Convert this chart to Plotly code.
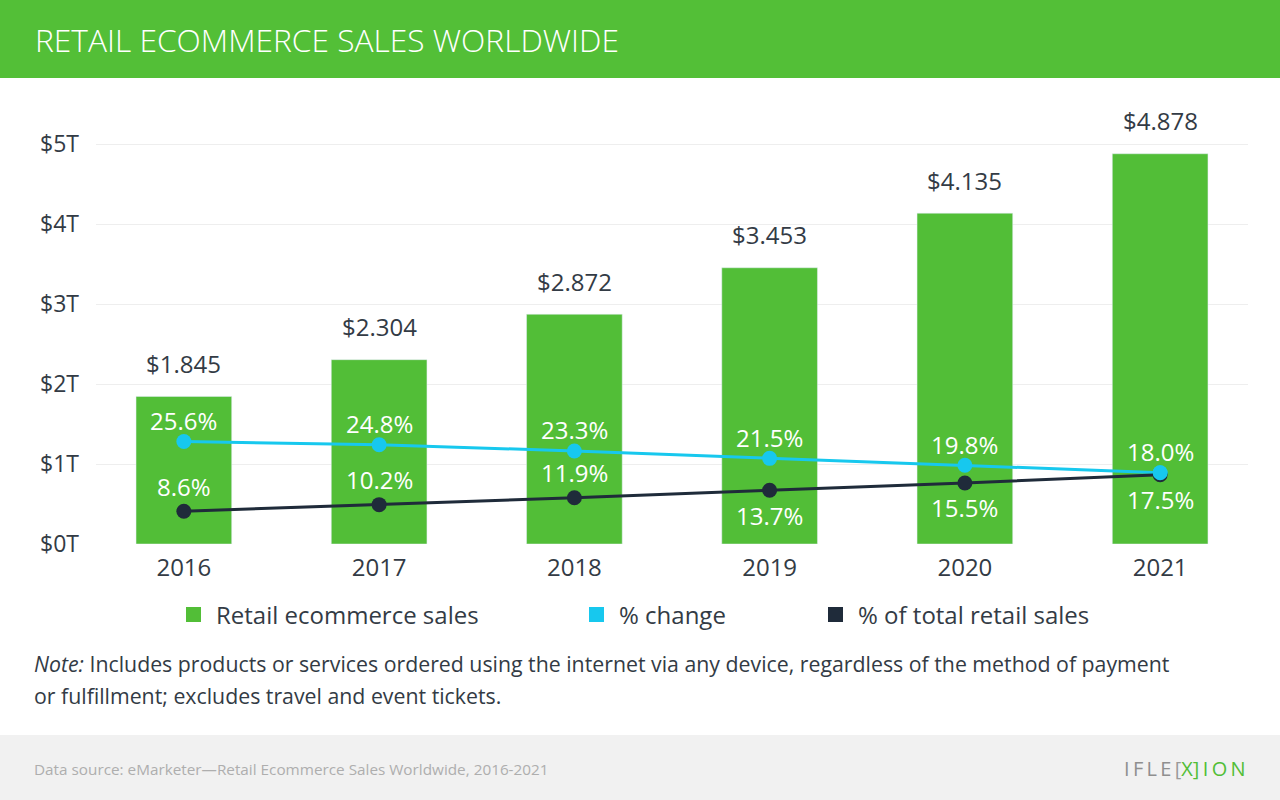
import plotly.graph_objects as go

years = ["2016", "2017", "2018", "2019", "2020", "2021"]
sales = [1.845, 2.304, 2.872, 3.453, 4.135, 4.878]
sales_labels = ["$1.845", "$2.304", "$2.872", "$3.453", "$4.135", "$4.878"]
pct_change = [25.6, 24.8, 23.3, 21.5, 19.8, 18.0]
pct_total = [8.6, 10.2, 11.9, 13.7, 15.5, 17.5]
total_label_pos = ["above", "above", "above", "below", "below", "below"]
y_tickvals = [0, 1, 2, 3, 4, 5]
y_ticktext = ["$0T", "$1T", "$2T", "$3T", "$4T", "$5T"]

GREEN = "#52BE37"
CYAN = "#17C8EE"
DARK = "#1F2B3A"
TEXT = "#333B45"
FONT = "Open Sans"

W, H = 1280, 800
L, R = 96, 32
T, B = 104, 256
PW, PH = W - L - R, H - T - B
Y1MAX = 5.5
# secondary axis: ~4.1 px per percent, its zero slightly below the bars' baseline
Y2MIN = 0.61
Y2MAX = 107.9

def px(x):
    return (x - L) / PW

def py(y):
    return (H - B - y) / PH

xs = list(range(len(years)))

fig = go.Figure()
fig.add_trace(go.Bar(x=xs, y=sales, marker_color=GREEN, width=0.49,
                     showlegend=False, hoverinfo="skip"))
fig.add_trace(go.Scatter(x=xs, y=pct_change, yaxis="y2", mode="lines+markers",
                         line=dict(color=CYAN, width=3),
                         marker=dict(size=15, color=CYAN), showlegend=False))
fig.add_trace(go.Scatter(x=xs, y=pct_total, yaxis="y2", mode="lines+markers",
                         line=dict(color=DARK, width=3),
                         marker=dict(size=15, color=DARK), showlegend=False))
fig.add_trace(go.Scatter(x=xs[-1:], y=pct_change[-1:], yaxis="y2", mode="markers",
                         marker=dict(size=15, color=CYAN), showlegend=False))

ann = []
for i, (v, t) in enumerate(zip(sales, sales_labels)):
    ann.append(dict(x=i, y=v, xref="x", yref="y", text=t, showarrow=False,
                    yshift=33, font=dict(size=24, color=TEXT, family=FONT)))
for i, v in enumerate(pct_change):
    ann.append(dict(x=i, y=v, xref="x", yref="y2", text=f"{v:.1f}%", showarrow=False,
                    yshift=21, font=dict(size=24, color="white", family=FONT)))
for i, (v, p) in enumerate(zip(pct_total, total_label_pos)):
    ann.append(dict(x=i, y=v, xref="x", yref="y2", text=f"{v:.1f}%", showarrow=False,
                    yshift=(25 if p == "above" else -25),
                    font=dict(size=24, color="white", family=FONT)))

shapes = []
shapes.append(dict(type="rect", xref="paper", yref="paper", x0=px(0), x1=px(W),
                   y0=py(78), y1=py(0), fillcolor="#53BF37", line_width=0, layer="below"))
shapes.append(dict(type="rect", xref="paper", yref="paper", x0=px(0), x1=px(W),
                   y0=py(800), y1=py(735), fillcolor="#F1F1F1", line_width=0, layer="below"))

ann.append(dict(x=px(33), y=py(40), xref="paper", yref="paper", xanchor="left",
                yanchor="middle", text="RETAIL ECOMMERCE SALES WORLDWIDE", showarrow=False,
                font=dict(size=31.7, color="white", family=FONT, weight=300)))

legend_items = [("Retail ecommerce sales", GREEN, 186),
                ("% change", CYAN, 589),
                ("% of total retail sales", DARK, 828)]
for name, col, x0 in legend_items:
    shapes.append(dict(type="rect", xref="paper", yref="paper", x0=px(x0), x1=px(x0 + 15),
                       y0=py(622), y1=py(607), fillcolor=col, line_width=0))
    ann.append(dict(x=px(x0 + 28), y=py(614), xref="paper", yref="paper", xanchor="left",
                    yanchor="middle", text=name, showarrow=False,
                    font=dict(size=24, color=TEXT, family=FONT)))

ann.append(dict(x=px(32), y=py(663), xref="paper", yref="paper", xanchor="left",
                yanchor="middle", showarrow=False,
                text="<i>Note:</i> Includes products or services ordered using the internet via any device, regardless of the method of payment",
                font=dict(size=21.3, color=TEXT, family=FONT)))
ann.append(dict(x=px(32), y=py(695), xref="paper", yref="paper", xanchor="left",
                yanchor="middle", showarrow=False,
                text="or fulfillment; excludes travel and event tickets.",
                font=dict(size=21.3, color=TEXT, family=FONT)))
ann.append(dict(x=px(32), y=py(769), xref="paper", yref="paper", xanchor="left",
                yanchor="middle", showarrow=False,
                text="Data source: eMarketer\u2014Retail Ecommerce Sales Worldwide, 2016-2021",
                font=dict(size=15.3, color="#AEAEAE", family=FONT)))
ann.append(dict(x=px(1248), y=py(768), xref="paper", yref="paper", xanchor="right",
                yanchor="middle", showarrow=False,
                text="<span style='color:#8F8F8F'>I\u2009F\u2009L\u2009E\u2009</span>"
                     "<span style='color:#9A9A9A'>[</span><span style='color:#52BE37'>X]</span>"
                     "<span style='color:#52BE37'>\u2009I\u2009O\u2009N</span>",
                font=dict(size=20, color="#8F8F8F", family=FONT)))

fig.update_layout(
    width=W, height=H,
    margin=dict(l=L, r=R, t=T, b=B),
    paper_bgcolor="white", plot_bgcolor="white",
    font=dict(family=FONT, color=TEXT),
    showlegend=False,
    xaxis=dict(range=[-0.45, 5.45], tickvals=xs, ticktext=years, showgrid=False,
               zeroline=False, tickfont=dict(size=24, color=TEXT), ticks="", ticklen=0,
               ticklabelstandoff=7, fixedrange=True),
    yaxis=dict(range=[0, Y1MAX], tickvals=y_tickvals, ticktext=y_ticktext,
               showgrid=True, gridcolor="#EEEEEE", gridwidth=1, zeroline=False,
               tickfont=dict(size=23, color=TEXT), ticklabelstandoff=16),
    yaxis2=dict(range=[Y2MIN, Y2MAX], overlaying="y", side="right", showgrid=False,
                showticklabels=False, zeroline=False),
    shapes=shapes,
    annotations=ann,
)

fig.write_html("out.html", config={"displayModeBar": False},
               post_script="document.body.style.margin='0';")
